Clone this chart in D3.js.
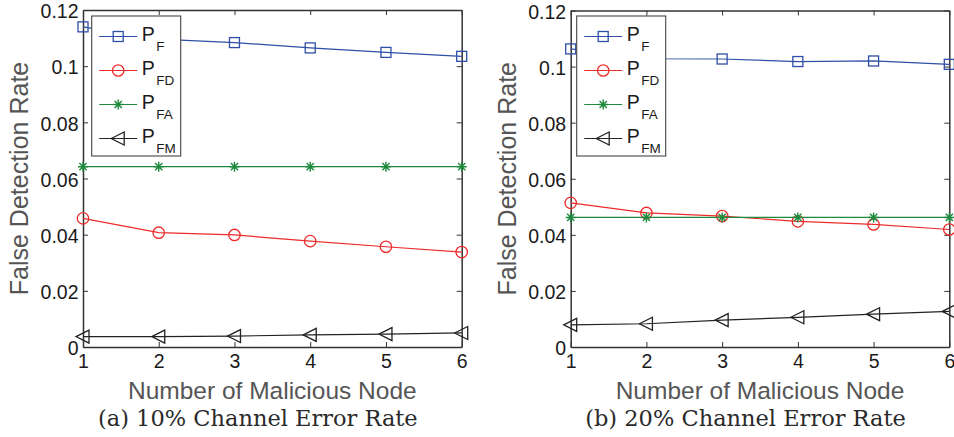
<!DOCTYPE html>
<html><head><meta charset="utf-8">
<script src="https://cdn.jsdelivr.net/npm/d3@7"></script>
<style>
html,body{margin:0;padding:0;background:#fff;}
svg{display:block;}
</style></head>
<body>
<svg id="chart" width="954" height="437"></svg>
<script>
// ---- data ----
const nodes = [1, 2, 3, 4, 5, 6];
const yTicks = [0, 0.02, 0.04, 0.06, 0.08, 0.1, 0.12];
const yTickLabels = ["0", "0.02", "0.04", "0.06", "0.08", "0.1", "0.12"];
const seriesNames = ["F", "FD", "FA", "FM"];

const pF_a  = [0.1140, 0.1096, 0.1084, 0.1065, 0.1049, 0.1035];
const pFD_a = [0.0458, 0.0407, 0.0399, 0.0377, 0.0357, 0.0338];
const pFA_a = [0.0642, 0.0642, 0.0642, 0.0642, 0.0642, 0.0642];
const pFM_a = [0.0037, 0.0037, 0.0039, 0.0043, 0.0046, 0.0050];

const pF_b  = [0.1063, 0.1028, 0.1027, 0.1018, 0.1020, 0.1008];
const pFD_b = [0.0514, 0.0478, 0.0467, 0.0448, 0.0437, 0.0419];
const pFA_b = [0.0462, 0.0462, 0.0462, 0.0462, 0.0462, 0.0462];
const pFM_b = [0.0079, 0.0083, 0.0096, 0.0106, 0.0117, 0.0127];

const captions = ["(a) 10% Channel Error Rate", "(b) 20% Channel Error Rate"];
const xLabel = "Number of Malicious Node";
const yLabel = "False Detection Rate";

// ---- styles ----
const colors = ["#2f4fa6", "#ee2b2b", "#1d8a3d", "#222222"];
const markers = ["square", "circle", "star", "triLeft"];

const panels = [
  {x0: 83, x1: 461.7, y0: 10, y1: 347, legDx: 8.7, data: [pF_a, pFD_a, pFA_a, pFM_a], caption: captions[0]},
  {x0: 570.7, x1: 949.3, y0: 10.5, y1: 347, legDx: 6, data: [pF_b, pFD_b, pFA_b, pFM_b], caption: captions[1]}
];

const svg = d3.select("#chart");
const tickFont = "'Liberation Sans', Arial, Helvetica, sans-serif";

function drawMarker(g, type, x, y, color) {
  if (type === "square") {
    g.append("rect").attr("x", x - 5).attr("y", y - 5).attr("width", 10).attr("height", 10)
      .attr("fill", "none").attr("stroke", color).attr("stroke-width", 1.3);
  } else if (type === "circle") {
    g.append("circle").attr("cx", x).attr("cy", y).attr("r", 5.7)
      .attr("fill", "none").attr("stroke", color).attr("stroke-width", 1.3);
  } else if (type === "star") {
    const r = 5, d = 3.6;
    const p = `M${x - r},${y}L${x + r},${y}M${x},${y - r}L${x},${y + r}` +
              `M${x - d},${y - d}L${x + d},${y + d}M${x - d},${y + d}L${x + d},${y - d}`;
    g.append("path").attr("d", p).attr("fill", "none").attr("stroke", color).attr("stroke-width", 1.4);
  } else if (type === "triLeft") {
    const p = `M${x - 7},${y}L${x + 6},${y - 6.5}L${x + 6},${y + 6.5}Z`;
    g.append("path").attr("d", p).attr("fill", "none").attr("stroke", color).attr("stroke-width", 1.3);
  }
}

panels.forEach(pn => {
  const x = d3.scaleLinear().domain([1, 6]).range([pn.x0, pn.x1]);
  const y = d3.scaleLinear().domain([0, 0.12]).range([pn.y1, pn.y0]);
  const g = svg.append("g");

  // axes (ticks inward, MATLAB style box)
  const axB = g.append("g").attr("transform", `translate(0,${pn.y1})`)
    .call(d3.axisBottom(x).tickValues(nodes).tickFormat(d3.format("d")).tickSizeInner(-5).tickSizeOuter(0).tickPadding(7.5));
  const axT = g.append("g").attr("transform", `translate(0,${pn.y0})`)
    .call(d3.axisTop(x).tickValues(nodes).tickFormat("").tickSizeInner(-5).tickSizeOuter(0));
  const axL = g.append("g").attr("transform", `translate(${pn.x0},0)`)
    .call(d3.axisLeft(y).tickValues(yTicks).tickFormat((d, i) => yTickLabels[i]).tickSizeInner(-5).tickSizeOuter(0).tickPadding(4.5));
  const axR = g.append("g").attr("transform", `translate(${pn.x1},0)`)
    .call(d3.axisRight(y).tickValues(yTicks).tickFormat("").tickSizeInner(-5).tickSizeOuter(0));
  [axB, axT, axL, axR].forEach(a => {
    a.selectAll("path.domain").attr("stroke", "#333").attr("stroke-width", 1.5);
    a.selectAll(".tick line").attr("stroke", "#333").attr("stroke-width", 1);
    a.selectAll("text").attr("font-family", tickFont).attr("font-size", "19.5px").attr("fill", "#1a1a1a");
  });
  axL.selectAll("text").attr("dy", "0.4em");

  // axis labels
  g.append("text").attr("x", (pn.x0 + pn.x1) / 2).attr("y", 399)
    .attr("text-anchor", "middle").attr("font-family", tickFont).attr("font-size", "24.5px")
    .attr("fill", "#555").text(xLabel);
  g.append("text").attr("transform", `translate(${pn.x0 - 55},${(pn.y0 + pn.y1) / 2}) rotate(-90)`)
    .attr("text-anchor", "middle").attr("font-family", tickFont).attr("font-size", "25px")
    .attr("fill", "#555").text(yLabel);

  // caption
  g.append("text").attr("x", (pn.x0 + pn.x1) / 2 - 14.5).attr("y", 426)
    .attr("text-anchor", "middle").attr("font-family", "'DejaVu Serif', serif").attr("font-size", "22.5px")
    .attr("fill", "#2a2a2a").text(pn.caption);

  // series
  const line = d3.line().x((d, i) => x(nodes[i])).y(d => y(d));
  pn.data.forEach((vals, si) => {
    const sg = g.append("g");
    sg.append("path").attr("d", line(vals)).attr("fill", "none")
      .attr("stroke", colors[si]).attr("stroke-width", 1.2);
    vals.forEach((v, i) => drawMarker(sg, markers[si], x(nodes[i]), y(v), colors[si]));
  });

  // legend
  const lx = pn.x0 + pn.legDx, ly = 16, lw = 89, lh = 140;
  const lg = g.append("g");
  lg.append("rect").attr("x", lx).attr("y", ly).attr("width", lw).attr("height", lh)
    .attr("fill", "#fff").attr("stroke", "#444").attr("stroke-width", 1.1);
  seriesNames.forEach((nm, si) => {
    const yc = ly + 20.5 + si * 34;
    lg.append("line").attr("x1", lx + 7.5).attr("x2", lx + 45.5).attr("y1", yc).attr("y2", yc)
      .attr("stroke", colors[si]).attr("stroke-width", 1.2);
    drawMarker(lg, markers[si], lx + 26.5, yc, colors[si]);
    const t = lg.append("text").attr("x", lx + 50).attr("y", yc + 4)
      .attr("font-family", tickFont).attr("font-size", "19.5px").attr("fill", "#1a1a1a");
    t.append("tspan").text("P");
    t.append("tspan").attr("dy", 10).attr("dx", 1.5).attr("font-size", "13.5px").text(nm);
  });
});
</script>
</body></html>
